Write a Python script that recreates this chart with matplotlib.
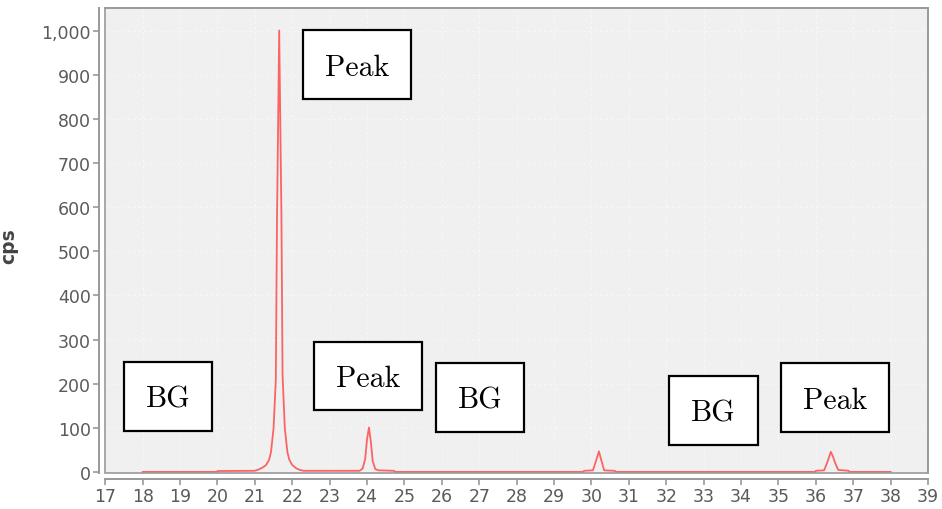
import matplotlib
matplotlib.use("Agg")
import matplotlib.pyplot as plt
from matplotlib.patches import Rectangle

# scan data (2theta, cps)
two_theta = [18.00, 19.98, 20.00, 21.00, 21.10, 21.20, 21.30, 21.38, 21.43, 21.50,
             21.56, 21.59, 21.65, 21.71, 21.74, 21.80, 21.87, 21.92, 22.00, 22.10,
             22.20, 22.30, 23.80, 23.88, 23.95, 24.00, 24.05, 24.10, 24.15, 24.22,
             24.30, 24.72, 24.75, 29.78, 29.80, 30.04, 30.12, 30.20, 30.28, 30.34,
             30.62, 30.65, 35.98, 36.00, 36.22, 36.32, 36.40, 36.46, 36.52, 36.60,
             36.88, 36.90, 38.00]
cps = [0.5, 0.5, 2.5, 3, 6, 10, 16, 28, 45, 100,
       210, 560, 1000, 580, 220, 100, 45, 28, 16, 9,
       5, 3, 3, 8, 30, 75, 101, 70, 25, 7,
       4, 3, 0.5, 0.5, 3, 4, 25, 47, 22, 4,
       3, 0.5, 0.5, 3, 4, 25, 46, 35, 20, 5,
       3, 0.5, 0.5]

x_ticks = list(range(17, 40))
y_ticks = list(range(0, 1001, 100))

# annotation boxes: label, left, top, right, bottom (pixels in the figure)
box_labels = ["Peak", "Peak", "BG", "BG", "BG", "Peak"]
box_px = [(303, 31, 411, 100), (314, 343, 422, 411), (124, 363, 212, 432),
          (436, 364, 524, 433), (669, 377, 758, 446), (781, 364, 889, 433)]

W, H = 942, 510
fig = plt.figure(figsize=(W / 100, H / 100), dpi=100)
ax = fig.add_axes([105.3 / W, 1 - 474 / H, (928 - 105.3) / W, (474 - 9) / H])
ax.set_facecolor("#f0f0f0")

ax.plot(two_theta, cps, color="#ff4a4a", lw=1.3, alpha=0.85, zorder=3)

ax.set_xlim(17, 39)
ax.set_ylim(-2, 1051)
ax.set_xticks(x_ticks)
ax.set_yticks(y_ticks)
ax.set_yticklabels([f"{v:,}" for v in y_ticks])
ax.grid(True, color="white", linestyle=(0, (2, 3)), lw=0.8, alpha=0.55, zorder=0)
ax.set_axisbelow(True)

grey = "#999999"
for side in ["top", "right"]:
    ax.spines[side].set_color(grey)
    ax.spines[side].set_linewidth(1.2)
for side in ["left", "bottom"]:
    ax.spines[side].set_position(("outward", 4.3))
    ax.spines[side].set_color(grey)
    ax.spines[side].set_linewidth(1.4)
# frame around the plot area itself
ax.add_patch(Rectangle((0, 0), 1, 1, transform=ax.transAxes, fill=False,
                       edgecolor=grey, lw=1.2, zorder=5, clip_on=False))

ax.tick_params(axis="both", colors=grey, length=4, width=1.2,
               labelcolor="#5a5a5a", labelsize=12.5, pad=2)

ax.set_ylabel("cps", fontsize=13.5, fontweight="bold", color="#444444")
ax.yaxis.set_label_coords(-0.106, 0.49)

for label, (l, t, r, b) in zip(box_labels, box_px):
    rect = Rectangle((l / W, 1 - b / H), (r - l) / W, (b - t) / H,
                     transform=fig.transFigure, facecolor="white",
                     edgecolor="black", lw=1.6, zorder=10)
    fig.add_artist(rect)
    fig.text((l + r) / 2 / W, 1 - ((t + b) / 2 + 2.5) / H, label, fontname="cmr10",
             fontsize=21.5, ha="center", va="center", zorder=11)

fig.savefig("out.png", dpi=100)
